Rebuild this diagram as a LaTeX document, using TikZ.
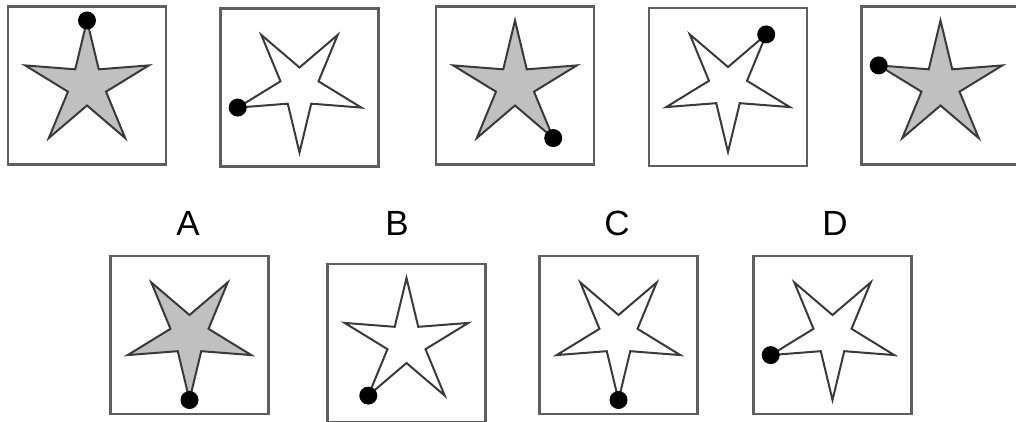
\documentclass[tikz,border=0pt]{standalone}
\usepackage{fontspec}
\setmainfont{Liberation Sans}
\definecolor{framegray}{HTML}{5E5E5E}
\definecolor{linegray}{HTML}{3A3A3A}
\definecolor{stargray}{HTML}{C0C0C0}
\begin{document}
\begin{tikzpicture}[x=1pt,y=1pt,
box/.style={draw=framegray,line width=2.4pt,minimum size=158pt,inner sep=0pt},
dot/.style={circle,fill=black,minimum size=18pt,inner sep=0pt},
label/.style={font=\fontsize{35}{40}\selectfont,inner sep=0pt},
starline/.style={draw=linegray,line width=2pt,line join=miter}]
\useasboundingbox (0,0) rectangle (1016,421);
% question row
\node[box] (b1) at (87,335.5) {};%1
\node[box] (b2) at (299.5,333.5) {};%2
\node[box] (b3) at (515,335.5) {};%3
\node[box] (b4) at (728,334) {};%4
\node[box] (b5) at (940.5,335.5) {};%5
% answer row
\node[box] (bA) at (189.5,86) {};%A
\node[box] (bB) at (406.5,78) {};%B
\node[box] (bC) at (618.5,86) {};%C
\node[box] (bD) at (832.5,86) {};%D
\node[label] (lA) at (188,198) {A};
\node[label] (lB) at (397,198) {B};
\node[label] (lC) at (617,198) {C};
\node[label] (lD) at (835,198) {D};
% stars: box / first tip / fill / tip with dot
\foreach \b/\r/\f/\d in {b1/90/stargray/90, b2/-90/white/198, b3/90/stargray/-54,
  b4/-90/white/54, b5/90/stargray/162, bA/-90/stargray/-90, bB/90/white/234,
  bC/-90/white/-90, bD/-90/white/198}
{
\draw[starline,fill=\f] ([shift={(\r:65)}]\b.center)
  \foreach \k in {0,...,4} {-- ([shift={(\r+72*\k+36:20)}]\b.center) -- ([shift={(\r+72*\k+72:65)}]\b.center)} -- cycle;
\node[dot] (dot-\b) at ([shift={(\d:65)}]\b.center) {};
}
\end{tikzpicture}
\end{document}
